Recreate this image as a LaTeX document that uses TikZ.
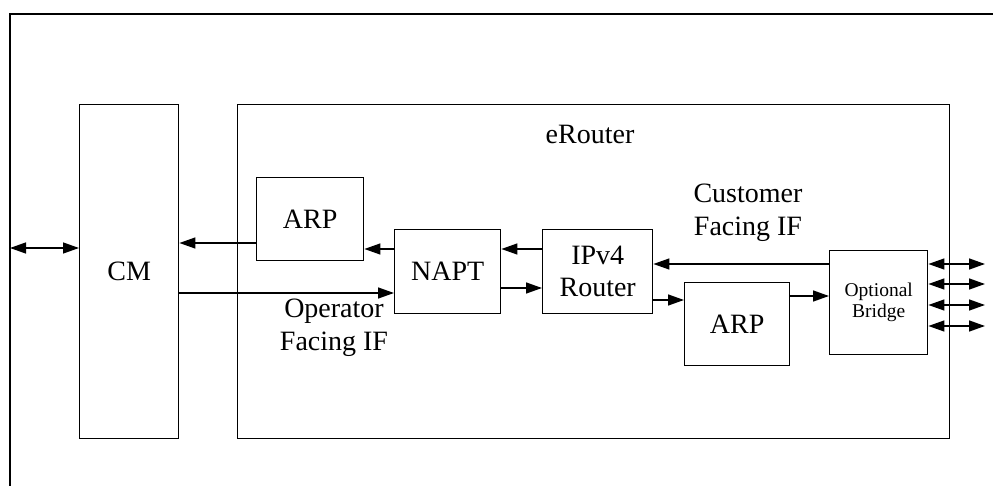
\documentclass[tikz,border=0pt]{standalone}
\usepackage{fontspec}
\setmainfont{Liberation Serif}
\usetikzlibrary{arrows.meta}
\begin{document}
\begin{tikzpicture}[x=1pt,y=-1pt,
  box/.style={draw,line width=1.4pt,inner sep=0pt,anchor=north west,align=center,
    font=\fontsize{28}{32}\selectfont},
  lbl/.style={align=center,inner sep=0pt,font=\fontsize{28}{33}\selectfont},
  conn/.style={line width=1.4pt,-{Triangle[length=16pt,width=11pt]}},
  dconn/.style={line width=1.4pt,{Triangle[length=16pt,width=11pt]}-{Triangle[length=16pt,width=11pt]}}]
\useasboundingbox (0,0) rectangle (993,486);
% open outer frame
\draw[line width=1.8pt] (10,486) -- (10,14) -- (993,14);
% boxes
\node[box,minimum width=99pt,minimum height=334pt] (cm) at (79,104) {CM};
\node[box,minimum width=712pt,minimum height=334pt] (er) at (237,104) {};
\node[lbl] (ert) at (590,134) {eRouter};
\node[box,minimum width=107pt,minimum height=83pt] (arp1) at (256,177) {ARP};
\node[box,minimum width=106pt,minimum height=84pt] (napt) at (394,229) {NAPT};
\node[box,minimum width=110pt,minimum height=84pt] (ipv4) at (542,229) {IPv4\\Router};
\node[box,minimum width=105pt,minimum height=83pt] (arp2) at (684,282) {ARP};
\node[box,minimum width=98pt,minimum height=104pt,font=\fontsize{19.5}{21}\selectfont] (br) at (829,250) {Optional\\Bridge};
\node[lbl] (cfi) at (748,213) {Customer\\Facing IF};
\node[lbl] (ofi) at (334,328) {Operator\\Facing IF};
% external left
\coordinate (ext) at (10,248);
\draw[dconn] (ext) -- (cm.west |- ext);
% connectors
\draw[conn] (arp1.west |- 0,243) -- (cm.east |- 0,243);
\draw[conn] (cm.east |- 0,293) -- (napt.west |- 0,293);
\draw[conn] (napt.west |- 0,249) -- (arp1.east |- 0,249);
\draw[conn] (ipv4.west |- 0,249) -- (napt.east |- 0,249);
\draw[conn] (napt.east |- 0,288) -- (ipv4.west |- 0,288);
\draw[conn] (br.west |- 0,264) -- (ipv4.east |- 0,264);
\draw[conn] (ipv4.east |- 0,300) -- (arp2.west |- 0,300);
\draw[conn] (arp2.east |- 0,296) -- (br.west |- 0,296);
% right ports
\foreach \i/\yy in {1/264,2/284,3/305,4/326}{
  \coordinate (p\i) at (985,\yy);
  \draw[dconn] (br.east |- p\i) -- (p\i);
}
\end{tikzpicture}
\end{document}
